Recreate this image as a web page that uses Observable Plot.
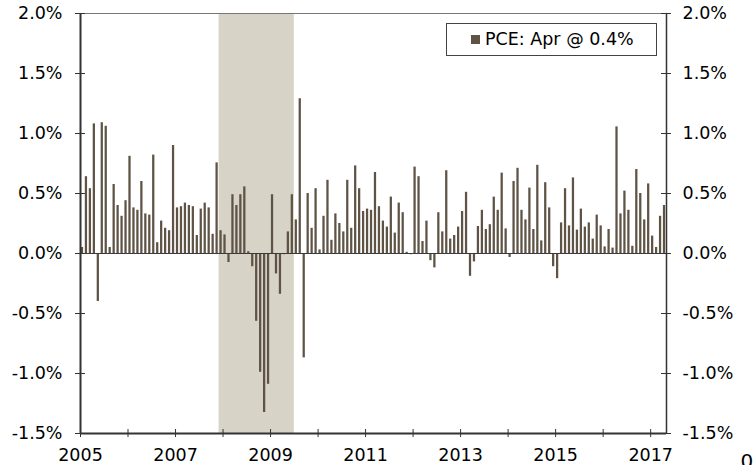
<!DOCTYPE html>
<html>
<head>
<meta charset="utf-8">
<script src="https://cdn.jsdelivr.net/npm/d3@7"></script>
<script src="https://cdn.jsdelivr.net/npm/@observablehq/plot@0.6"></script>
<style>
  html, body { margin: 0; padding: 0; background: #fff; }
  #wrap { position: relative; width: 756px; height: 465px; overflow: hidden; font-family: "DejaVu Sans", Verdana, sans-serif; }
  #legend { position: absolute; left: 446px; top: 23px; width: 209px; height: 31px; border: 1px solid #444; background: #fff; box-sizing: content-box; }
  #legend .sw { position: absolute; left: 24px; top: 11px; width: 9px; height: 9px; background: #5f5346; }
  #legend .lb { position: absolute; left: 38px; top: 4px; font-size: 17.5px; line-height: 22px; color: #000; white-space: nowrap; }
</style>
</head>
<body>
<div id="wrap"></div>
<script>
// Monthly PCE change (%), Jan 2005 .. Apr 2017
const startYear = 2005;
const values = [
  0.05, 0.64, 0.54, 1.08, -0.40, 1.09, 1.06, 0.05, 0.575, 0.40, 0.31, 0.44,   // 2005
  0.81, 0.38, 0.36, 0.60, 0.33, 0.32, 0.82, 0.09, 0.27, 0.21, 0.19, 0.90,     // 2006
  0.38, 0.39, 0.42, 0.40, 0.39, 0.15, 0.37, 0.42, 0.38, 0.16, 0.755, 0.19,    // 2007
  0.155, -0.075, 0.49, 0.40, 0.49, 0.555, 0.015, -0.11, -0.565, -0.99, -1.325, -1.09, // 2008
  0.49, -0.17, -0.34, -0.01, 0.18, 0.49, 0.28, 1.29, -0.87, 0.50, 0.21, 0.54, // 2009
  0.03, 0.31, 0.61, 0.11, 0.33, 0.25, 0.18, 0.61, 0.21, 0.73, 0.54, 0.35,     // 2010
  0.37, 0.36, 0.675, 0.39, 0.27, 0.22, 0.47, 0.17, 0.42, 0.34, 0.01, -0.01,   // 2011
  0.72, 0.64, 0.10, 0.27, -0.06, -0.12, 0.34, 0.18, 0.69, 0.12, 0.15, 0.22,   // 2012
  0.35, 0.51, -0.19, -0.07, 0.225, 0.36, 0.20, 0.24, 0.47, 0.36, 0.67, 0.205, // 2013
  -0.033, 0.60, 0.71, 0.36, 0.28, 0.545, 0.20, 0.735, 0.105, 0.59, 0.38, -0.11, // 2014
  -0.21, 0.255, 0.54, 0.23, 0.63, 0.195, 0.37, 0.22, 0.255, 0.12, 0.32, 0.23, // 2015
  0.055, 0.20, 0.045, 1.055, 0.33, 0.52, 0.36, 0.06, 0.70, 0.50, 0.28, 0.58,  // 2016
  0.145, 0.05, 0.31, 0.40                                                      // 2017
];
const recessionStart = [2007, 12]; // Dec 2007
const recessionEnd = [2009, 6];    // Jun 2009
const yearTicks = [2005, 2006, 2007, 2008, 2009, 2010, 2011, 2012, 2013, 2014, 2015, 2016, 2017];
const yearLabels = [2005, 2007, 2009, 2011, 2013, 2015, 2017];
const yTicks = [-1.5, -1.0, -0.5, 0.0, 0.5, 1.0, 1.5, 2.0];
const legendLabel = "PCE: Apr @ 0.4%";
const cornerText = "0";

const data = values.map((v, i) => ({t: startYear + i / 12, v}));
const xStart = startYear;
const xEnd = startYear + values.length / 12;
const rec = [{
  a: recessionStart[0] + (recessionStart[1] - 1) / 12,
  b: recessionEnd[0] + recessionEnd[1] / 12
}];

const W = 756, H = 465, mL = 80, mR = 90, mT = 13, mB = 32;
const fw = W - mL - mR, fh = H - mT - mB;
const axisColor = "#333";
const fmt = d => d.toFixed(1) + "%";

const chart = Plot.plot({
  width: W, height: H,
  marginLeft: mL, marginRight: mR, marginTop: mT, marginBottom: mB,
  style: {fontFamily: "DejaVu Sans, Verdana, sans-serif", fontSize: "17.5px", color: "#000", background: "#fff"},
  x: {type: "linear", domain: [xStart, xEnd]},
  y: {domain: [-1.5, 2.0]},
  marks: [
    Plot.rect(rec, {x1: "a", x2: "b", fill: "#d7d3c7"}),
    Plot.rectY(data, {x1: "t", x2: d => d.t + 1 / 12, y: "v", fill: "#5f5346", insetLeft: 0.85, insetRight: 0.85}),
    Plot.ruleY([0], {stroke: "#3a3a3a", strokeWidth: 1.2}),
    Plot.ruleY([2.0], {stroke: "#777", strokeWidth: 1}),
    Plot.ruleY([-1.5], {stroke: axisColor, strokeWidth: 2}),
    Plot.ruleX([xStart], {stroke: axisColor, strokeWidth: 2}),
    Plot.ruleX([xEnd], {stroke: axisColor, strokeWidth: 1.5}),
    Plot.tickX(yearTicks, {x: d => d, stroke: axisColor, strokeWidth: 1, insetTop: fh - 4, insetBottom: -4}),
    Plot.tickY(yTicks, {y: d => d, stroke: axisColor, strokeWidth: 1, insetLeft: -5, insetRight: fw - 5}),
    Plot.tickY(yTicks, {y: d => d, stroke: axisColor, strokeWidth: 1, insetLeft: fw - 5, insetRight: -5}),
    Plot.axisX(yearLabels, {tickSize: 0, tickPadding: 15, tickFormat: d => String(d), fill: "#000"}),
    Plot.axisY(yTicks, {anchor: "left", tickSize: 0, tickPadding: 18, tickFormat: fmt, fill: "#000", label: null}),
    Plot.axisY(yTicks, {anchor: "right", tickSize: 0, tickPadding: 16, tickFormat: fmt, fill: "#000", label: null}),
    Plot.text([cornerText], {frameAnchor: "bottom-right", dx: 74, dy: 34, textAnchor: "start", lineAnchor: "bottom", fontSize: 20, fill: "#000"})
  ]
});

const wrap = document.getElementById("wrap");
wrap.appendChild(chart);
const lg = document.createElement("div");
lg.id = "legend";
lg.innerHTML = `<div class="sw"></div><div class="lb"></div>`;
lg.querySelector(".lb").textContent = legendLabel;
wrap.appendChild(lg);
</script>
</body>
</html>
